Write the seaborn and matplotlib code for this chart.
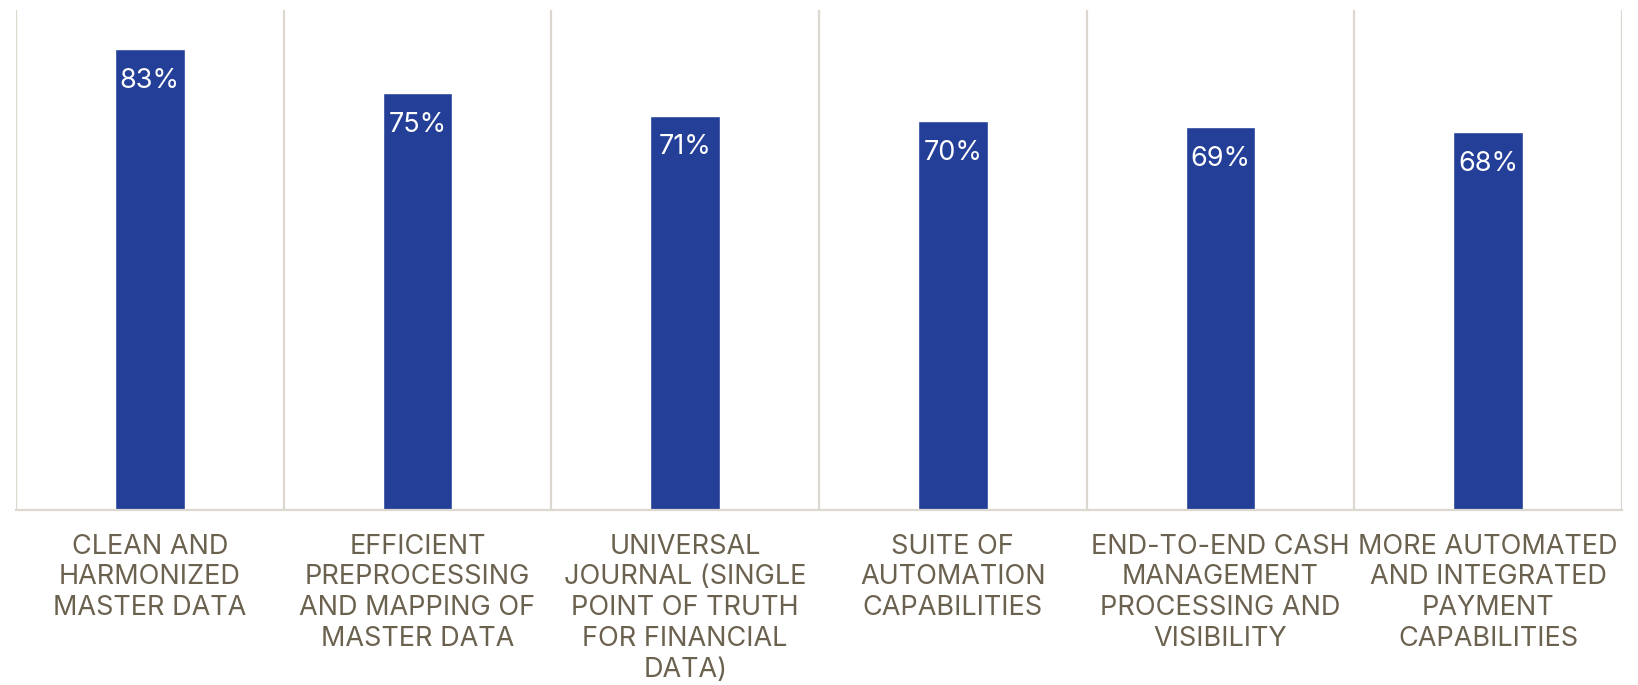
import matplotlib
matplotlib.use("Agg")
import matplotlib.pyplot as plt
import seaborn as sns
import pandas as pd
import numpy as np

categories = [
    "CLEAN AND\nHARMONIZED\nMASTER DATA",
    "EFFICIENT\nPREPROCESSING\nAND MAPPING OF\nMASTER DATA",
    "UNIVERSAL\nJOURNAL (SINGLE\nPOINT OF TRUTH\nFOR FINANCIAL\nDATA)",
    "SUITE OF\nAUTOMATION\nCAPABILITIES",
    "END-TO-END CASH\nMANAGEMENT\nPROCESSING AND\nVISIBILITY",
    "MORE AUTOMATED\nAND INTEGRATED\nPAYMENT\nCAPABILITIES",
]
values = [83, 75, 71, 70, 69, 68]
value_labels = ["83%", "75%", "71%", "70%", "69%", "68%"]

BAR_COLOR = "#233f98"
TEXT_COLOR = "#6b614f"
GRID_COLOR = "#dcd8cf"

sns.set_theme(style="white")
plt.rcParams["font.family"] = ["Inter", "DejaVu Sans"]

df = pd.DataFrame({"category": categories, "value": values})

fig = plt.figure(figsize=(16.38, 6.85), dpi=100)
ax = fig.add_axes([16 / 1638, 1 - 510 / 685, (1622 - 16) / 1638, (510 - 10) / 685])

sns.barplot(data=df, x="category", y="value", color=BAR_COLOR, width=0.26,
            saturation=1, ax=ax)

n = len(categories)
ax.set_xlim(-0.5, n - 0.5)
ax.set_ylim(0, 90)

# vertical separators between categories
ax.set_xticks(np.arange(-0.5, n, 1.0), minor=True)
ax.grid(True, which="minor", axis="x", color=GRID_COLOR, linewidth=1.6)
ax.grid(False, which="major")
ax.tick_params(which="both", length=0)
ax.set_yticks([])

for side in ["top", "left", "right"]:
    ax.spines[side].set_visible(False)
ax.spines["bottom"].set_color(GRID_COLOR)
ax.spines["bottom"].set_linewidth(1.6)

ax.set_xlabel("")
ax.set_ylabel("")
ax.tick_params(axis="x", which="major", pad=17, labelsize=19.5, labelcolor=TEXT_COLOR)
for lbl in ax.get_xticklabels():
    lbl.set_linespacing(1.24)

for i, (v, txt) in enumerate(zip(values, value_labels)):
    ax.annotate(txt, xy=(i, v), xytext=(0, -23), textcoords="offset points",
                ha="center", va="center", color="white", fontsize=19.5)

fig.savefig("out.png", dpi=100, facecolor="white")
